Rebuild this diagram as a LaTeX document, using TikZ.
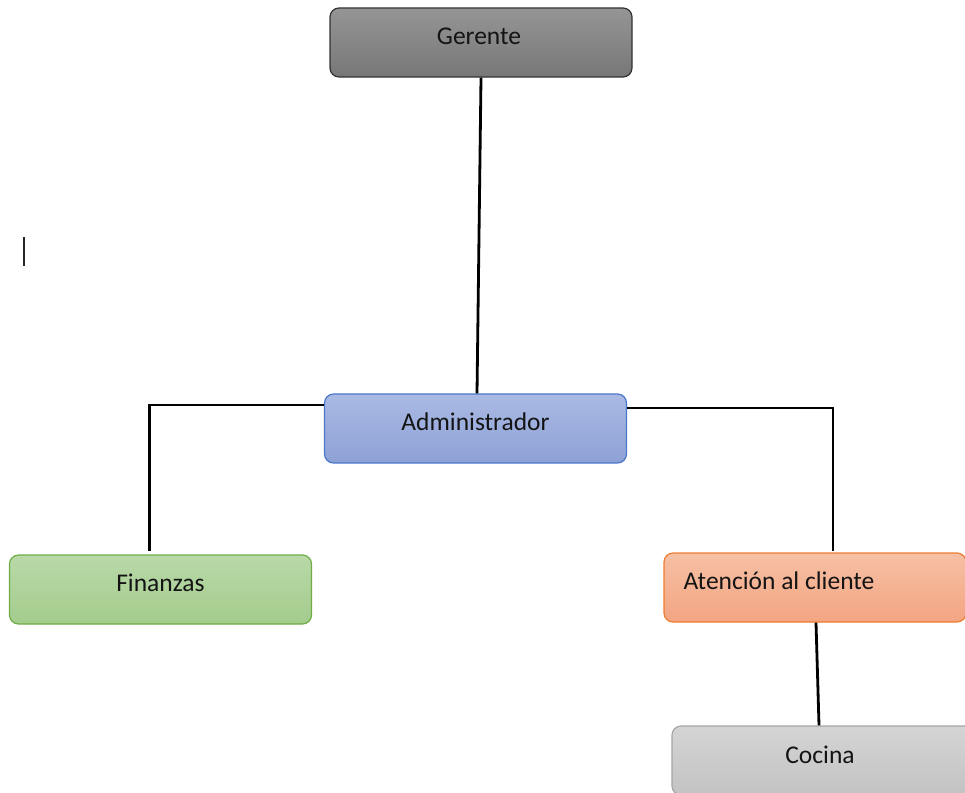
\documentclass[tikz,border=0pt]{standalone}
\usepackage{fontspec}
\setmainfont{Carlito}
\usetikzlibrary{calc}
\definecolor{gerT}{HTML}{959595}\definecolor{gerB}{HTML}{777777}\definecolor{gerD}{HTML}{333333}
\definecolor{admT}{HTML}{AABAE4}\definecolor{admB}{HTML}{8DA1D6}\definecolor{admD}{HTML}{4A78C8}
\definecolor{finT}{HTML}{B8D9A8}\definecolor{finB}{HTML}{A4CC8D}\definecolor{finD}{HTML}{70AD47}
\definecolor{atnT}{HTML}{F6C0A4}\definecolor{atnB}{HTML}{F3A582}\definecolor{atnD}{HTML}{ED7D31}
\definecolor{cocT}{HTML}{D4D4D4}\definecolor{cocB}{HTML}{C3C3C3}\definecolor{cocD}{HTML}{A5A5A5}
\begin{document}
\begin{tikzpicture}[x=1pt,y=-1pt,
  box/.style={draw, rounded corners=9pt, line width=1.2pt, minimum width=302pt, minimum height=69pt, inner sep=0pt},
  lbl/.style={font=\fontsize{25.5}{30}\selectfont, text=black!92, inner sep=0pt},
  conn/.style={line width=2.8pt, black}]
\useasboundingbox (0,0) rectangle (965,792);
\clip (0,0) rectangle (965,792);
% boxes
\node[box, draw=gerD, top color=gerT, bottom color=gerB] (ger) at (481,42.5) {};
\node[box, draw=admD, top color=admT, bottom color=admB] (adm) at (475.5,428.5) {};
\node[box, draw=finD, top color=finT, bottom color=finB] (fin) at (160.5,589.5) {};
\node[box, draw=atnD, top color=atnT, bottom color=atnB] (atn) at (815,587.5) {};
\node[box, draw=cocD, top color=cocT, bottom color=cocB] (coc) at (823,760.5) {};
% labels
\node[lbl] (gerL) at ($(ger.center)+(-2,-6)$) {Gerente};
\node[lbl] (admL) at ($(adm.center)+(0,-7)$) {Administrador};
\node[lbl] (finL) at ($(fin.center)+(0,-7)$) {Finanzas};
\node[lbl, anchor=west] (atnL) at ($(atn.west)+(20,-7)$) {Atención al cliente};
\node[lbl] (cocL) at ($(coc.center)+(-3,-6)$) {Cocina};
% connectors
\draw[conn] (ger.south) -- ($(adm.north)+(1.5,0)$);
\draw[conn] ($(adm.west)+(0,-23.5)$) -| ($(fin.north)+(-11,-3)$);
\draw[conn] ($(adm.east)+(0,-20.5)$) -| ($(atn.north)+(18,-1)$);
\draw[conn] ($(atn.south)+(1,0)$) -- ($(coc.north)+(-4,0)$);
% text cursor
\coordinate (curA) at (24,237);
\coordinate (curB) at (24,266);
\draw[line width=1.4pt, black!85] (curA) -- (curB);
\end{tikzpicture}
\end{document}
